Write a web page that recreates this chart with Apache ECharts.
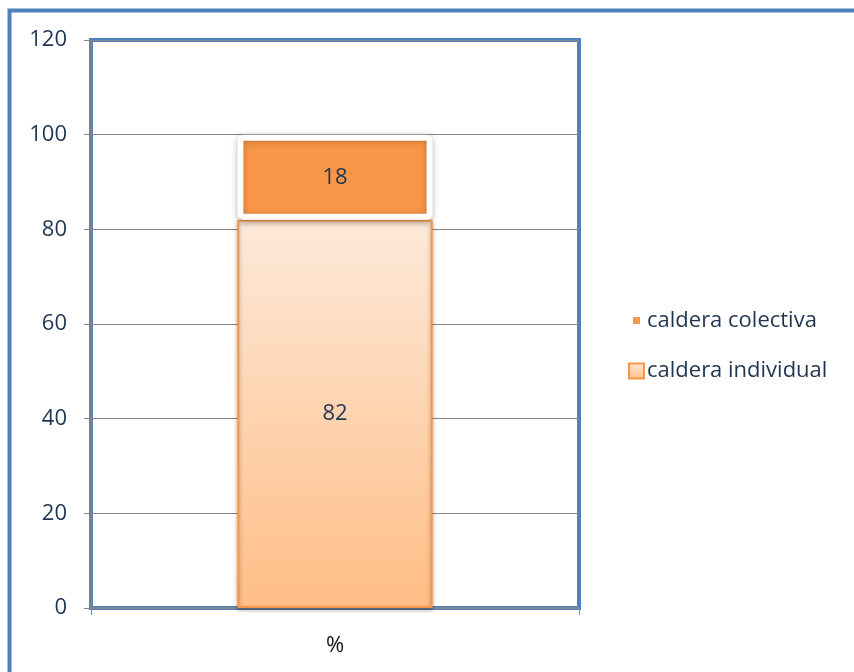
<!DOCTYPE html>
<html>
<head>
<meta charset="utf-8">
<script src="https://cdn.jsdelivr.net/npm/echarts@6/dist/echarts.min.js"></script>
<style>html,body{margin:0;padding:0;background:#fff;}#c{width:854px;height:672px;}</style>
</head>
<body>
<div id="c"></div>
<script>
const categories = ['%'];
const seriesNames = ['caldera colectiva', 'caldera individual'];
const individualValues = [82];
const colectivaValues = [18];
const yTicks = [0, 20, 40, 60, 80, 100, 120];

const chart = echarts.init(document.getElementById('c'));
const textColor = '#1F3552';
const font = '"Open Sans", sans-serif';
const fs = 22;
chart.setOption({
  animation: false,
  graphic: [{
    type: 'rect', silent: true, z: -10,
    shape: { x: 9.5, y: 10.5, width: 1000, height: 1000 },
    style: { fill: 'none', stroke: '#4F81BD', lineWidth: 4 }
  }],
  grid: { left: 91, right: 275, top: 40, bottom: 64, show: true, borderColor: '#4F81BD', borderWidth: 4, backgroundColor: '#fff' },
  legend: {
    orient: 'vertical', left: 620, top: 304, itemWidth: 15, itemHeight: 15, itemGap: 28,
    textStyle: { fontFamily: font, fontSize: fs, color: textColor, padding: [0, 0, 0, -2] },
    data: [
      { name: seriesNames[0], icon: 'rect', itemStyle: { color: '#F79646', borderColor: '#fff', borderWidth: 8, shadowBlur: 0 } },
      { name: seriesNames[1], icon: 'rect', itemStyle: { color: { type: 'linear', x: 0, y: 0, x2: 0, y2: 1, colorStops: [{ offset: 0, color: '#FDE9D9' }, { offset: 1, color: '#FFBE86' }] }, borderColor: '#F79646', borderWidth: 2, shadowBlur: 0 } }
    ]
  },
  xAxis: {
    type: 'category', data: categories,
    axisLine: { show: true, lineStyle: { color: '#868686', width: 1.5 } },
    axisTick: { show: true, length: 7, lineStyle: { color: '#868686' } },
    axisLabel: { fontFamily: font, fontSize: fs, color: '#111', margin: 27 }
  },
  yAxis: {
    type: 'value', min: yTicks[0], max: yTicks[yTicks.length - 1], interval: 20,
    axisLine: { show: true, lineStyle: { color: '#868686', width: 1.5 } },
    axisTick: { show: true, length: 7, lineStyle: { color: '#868686' } },
    axisLabel: { fontFamily: font, fontSize: fs, color: textColor, margin: 24 },
    splitLine: { show: true, lineStyle: { color: '#868686', width: 1 } }
  },
  series: [
    {
      name: seriesNames[1], type: 'bar', stack: 's', data: individualValues, barWidth: '40%',
      itemStyle: {
        color: { type: 'linear', x: 0, y: 0, x2: 0, y2: 1, colorStops: [{ offset: 0, color: '#FDE9D9' }, { offset: 1, color: '#FFBE86' }] },
        borderColor: '#F79646', borderWidth: 2,
        shadowBlur: 4, shadowColor: 'rgba(0,0,0,0.3)', shadowOffsetY: 2
      },
      label: { show: true, position: 'inside', fontFamily: font, fontSize: fs, color: textColor }
    },
    {
      name: seriesNames[0], type: 'bar', stack: 's', data: colectivaValues, barWidth: '40%',
      itemStyle: {
        color: '#F79646', borderColor: '#fff', borderWidth: 6, borderRadius: 3,
        shadowBlur: 6, shadowColor: 'rgba(0,0,0,0.25)', shadowOffsetY: 1
      },
      label: { show: true, position: 'inside', fontFamily: font, fontSize: fs, color: textColor }
    }
  ]
});
</script>
</body>
</html>
